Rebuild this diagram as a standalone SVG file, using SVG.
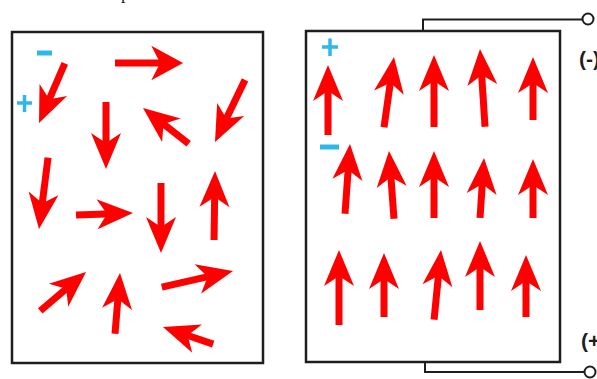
<svg xmlns="http://www.w3.org/2000/svg" xmlns:xlink="http://www.w3.org/1999/xlink" width="597" height="379" viewBox="0 0 597 379">
<style>
.box{fill:#fff;stroke:#1e1e1e;stroke-width:2.5}
.wire{fill:none;stroke:#1e1e1e;stroke-width:2}
.term{fill:#fff;stroke:#1e1e1e;stroke-width:2}
.sh{stroke:#ff0000;stroke-width:7;stroke-linecap:butt}
.hd{fill:#ff0000}
.sg{stroke:#2fb7ea;stroke-linecap:butt}
.lbl{font-family:"Liberation Sans",Arial,sans-serif;font-weight:bold;font-size:21px;fill:#1e1e1e}
</style>
<defs>
<path id="h" class="hd" d="M0,0 L-36,-15 L-26,0 L-36,15 Z"/>
</defs>
<rect width="597" height="379" fill="#fff"/>
<text x="121" y="-1" font-family="Liberation Serif,serif" font-size="18" fill="#1e1e1e">p</text>

<g id="box-left">
<rect class="box" x="12" y="32" width="251" height="331"/>
</g>
<g id="box-right">
<rect class="box" x="306" y="31" width="254" height="331"/>
</g>

<g id="connectors">
<path class="wire" d="M423,31 V19.5 H582.5"/>
<path class="wire" d="M425,362 V372 H584.5"/>
</g>
<g id="terminal-neg">
<circle class="term" cx="588" cy="19" r="5.5"/>
<text class="lbl" x="579" y="66">(-)</text>
</g>
<g id="terminal-pos">
<circle class="term" cx="590" cy="372" r="5.5"/>
<text class="lbl" x="581" y="348">(+)</text>
</g>

<g id="signs">
<line class="sg" x1="37" y1="53" x2="52" y2="53" stroke-width="5"/>
<path class="sg" d="M17,103 H32 M24.5,95 V112" stroke-width="3.5" fill="none"/>
<path class="sg" d="M322,47 H338 M330,38.5 V56" stroke-width="3.5" fill="none"/>
<line class="sg" x1="320" y1="147" x2="339" y2="147" stroke-width="5"/>
</g>

<g id="arrows-left">
<g transform="translate(39,123) rotate(113.4)"><line class="sh" x1="-65" y1="0" x2="-20" y2="0"/><use xlink:href="#h"/></g>
<g transform="translate(183,63) rotate(0)"><line class="sh" x1="-68" y1="0" x2="-18" y2="0"/><use xlink:href="#h" transform="scale(0.88,1.15)"/></g>
<g transform="translate(215,142) rotate(115.8)"><line class="sh" x1="-69" y1="0" x2="-20" y2="0"/><use xlink:href="#h"/></g>
<g transform="translate(106,169) rotate(90)"><line class="sh" x1="-67" y1="0" x2="-20" y2="0"/><use xlink:href="#h"/></g>
<g transform="translate(143,108) rotate(-141.95)"><line class="sh" x1="-58" y1="0" x2="-20" y2="0"/><use xlink:href="#h"/></g>
<g transform="translate(39,229) rotate(97.2)"><line class="sh" x1="-72" y1="0" x2="-20" y2="0"/><use xlink:href="#h"/></g>
<g transform="translate(133,213) rotate(-2)"><line class="sh" x1="-57" y1="0" x2="-20" y2="0"/><use xlink:href="#h"/></g>
<g transform="translate(161,253) rotate(90)"><line class="sh" x1="-70" y1="0" x2="-20" y2="0"/><use xlink:href="#h"/></g>
<g transform="translate(215,171) rotate(-89.2)"><line class="sh" x1="-69" y1="0" x2="-20" y2="0"/><use xlink:href="#h"/></g>
<g transform="translate(86,272) rotate(-40.3)"><line class="sh" x1="-60" y1="0" x2="-20" y2="0"/><use xlink:href="#h"/></g>
<g transform="translate(120,273) rotate(-85.3)"><line class="sh" x1="-61" y1="0" x2="-20" y2="0"/><use xlink:href="#h"/></g>
<g transform="translate(233,271) rotate(-12.7)"><line class="sh" x1="-73" y1="0" x2="-20" y2="0"/><use xlink:href="#h"/></g>
<g transform="translate(163,327) rotate(-161.2)"><line class="sh" x1="-53" y1="0" x2="-20" y2="0"/><use xlink:href="#h"/></g>
</g>

<g id="arrows-right">
<g transform="translate(328,65) rotate(-90)"><line class="sh" x1="-70" y1="0" x2="-20" y2="0"/><use xlink:href="#h"/></g>
<g transform="translate(394,57) rotate(-81.9)"><line class="sh" x1="-71" y1="0" x2="-20" y2="0"/><use xlink:href="#h"/></g>
<g transform="translate(434,55) rotate(-90)"><line class="sh" x1="-72" y1="0" x2="-20" y2="0"/><use xlink:href="#h"/></g>
<g transform="translate(480,49) rotate(-93.7)"><line class="sh" x1="-78" y1="0" x2="-20" y2="0"/><use xlink:href="#h"/></g>
<g transform="translate(533,57) rotate(-90)"><line class="sh" x1="-63" y1="0" x2="-20" y2="0"/><use xlink:href="#h"/></g>
<g transform="translate(350,144) rotate(-85.9)"><line class="sh" x1="-70" y1="0" x2="-20" y2="0"/><use xlink:href="#h"/></g>
<g transform="translate(389,151) rotate(-94.2)"><line class="sh" x1="-68" y1="0" x2="-20" y2="0"/><use xlink:href="#h"/></g>
<g transform="translate(434,151) rotate(-90)"><line class="sh" x1="-67" y1="0" x2="-20" y2="0"/><use xlink:href="#h"/></g>
<g transform="translate(484,158) rotate(-86.2)"><line class="sh" x1="-60" y1="0" x2="-20" y2="0"/><use xlink:href="#h"/></g>
<g transform="translate(533,159) rotate(-90)"><line class="sh" x1="-59" y1="0" x2="-20" y2="0"/><use xlink:href="#h"/></g>
<g transform="translate(339,250) rotate(-90)"><line class="sh" x1="-75" y1="0" x2="-20" y2="0"/><use xlink:href="#h"/></g>
<g transform="translate(384,253) rotate(-90)"><line class="sh" x1="-64" y1="0" x2="-20" y2="0"/><use xlink:href="#h"/></g>
<g transform="translate(441,250) rotate(-84.3)"><line class="sh" x1="-70" y1="0" x2="-20" y2="0"/><use xlink:href="#h"/></g>
<g transform="translate(480,241) rotate(-90)"><line class="sh" x1="-69" y1="0" x2="-20" y2="0"/><use xlink:href="#h"/></g>
<g transform="translate(526,255) rotate(-90)"><line class="sh" x1="-62" y1="0" x2="-20" y2="0"/><use xlink:href="#h"/></g>
</g>
</svg>
